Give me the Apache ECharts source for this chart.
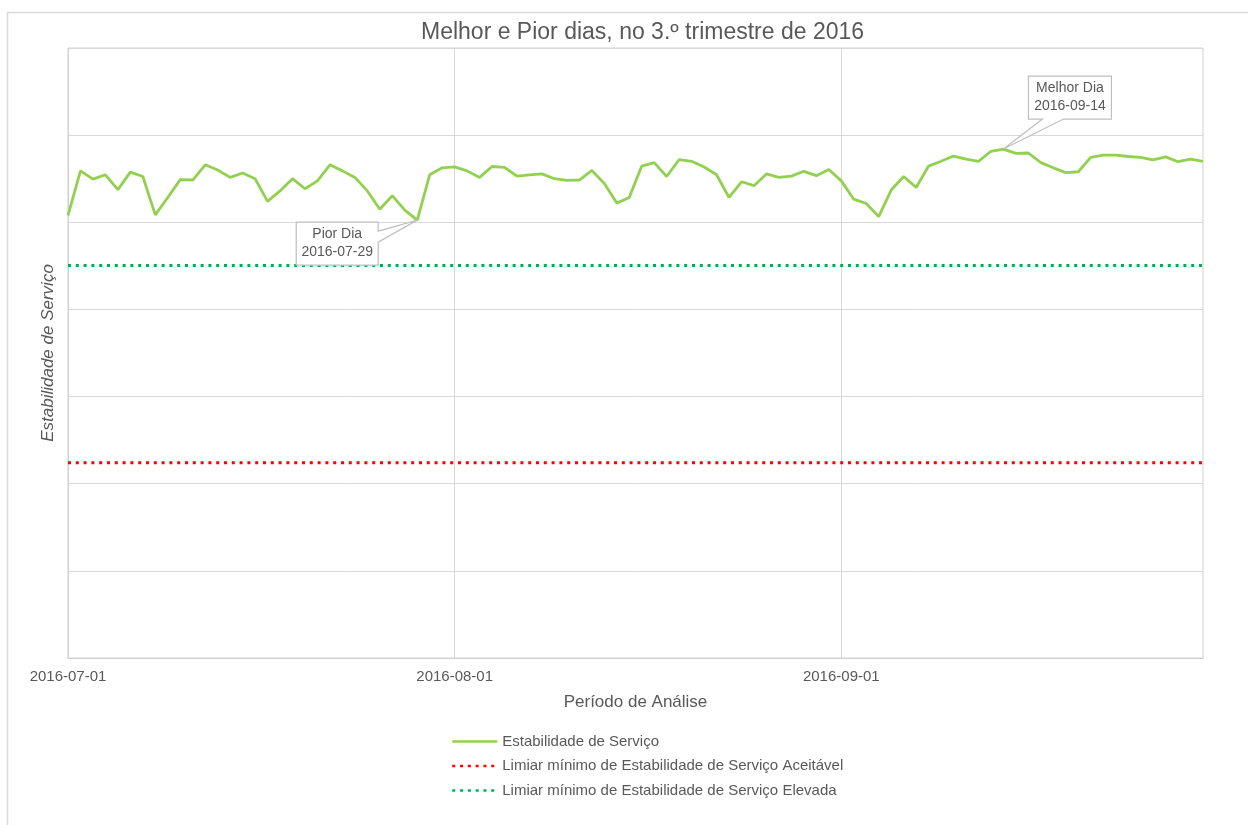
<!DOCTYPE html>
<html>
<head>
<meta charset="utf-8">
<script src="https://cdn.jsdelivr.net/npm/echarts@6/dist/echarts.min.js"></script>
<style>html,body{margin:0;padding:0;background:#fff}#c{width:1248px;height:825px}</style>
</head>
<body>
<div id="c"></div>
<script>
const months = [['2016-07', 31], ['2016-08', 31], ['2016-09', 30]];
const dates = [];
months.forEach(([m, n]) => { for (let d = 1; d <= n; d++) dates.push(m + '-' + String(d).padStart(2, '0')); });

const julValues = [96.16, 97.18, 96.99, 97.09, 96.75, 97.15, 97.05, 96.17, 96.57, 96.98, 96.97, 97.32, 97.20, 97.03, 97.13, 97.00, 96.48, 96.72, 97.00, 96.77, 96.95, 97.32, 97.18, 97.03, 96.72, 96.30, 96.61, 96.28, 96.05, 97.09, 97.25];
const augValues = [97.27, 97.18, 97.03, 97.28, 97.26, 97.06, 97.09, 97.11, 97.00, 96.96, 96.97, 97.19, 96.89, 96.44, 96.57, 97.29, 97.37, 97.05, 97.44, 97.40, 97.27, 97.09, 96.57, 96.93, 96.84, 97.11, 97.03, 97.06, 97.17, 97.07, 97.21];
const sepValues = [96.95, 96.53, 96.43, 96.13, 96.74, 97.05, 96.80, 97.29, 97.40, 97.52, 97.45, 97.40, 97.63, 97.68, 97.58, 97.59, 97.37, 97.25, 97.14, 97.16, 97.49, 97.54, 97.54, 97.51, 97.49, 97.43, 97.50, 97.39, 97.45, 97.40];
const stability = julValues.concat(augValues, sepValues);

const acceptableThreshold = 90.48;
const highThreshold = 95.01;
const worstDay = '2016-07-29';
const bestDay = '2016-09-14';

const seriesNames = ['Estabilidade de Serviço', 'Limiar mínimo de Estabilidade de Serviço Aceitável', 'Limiar mínimo de Estabilidade de Serviço Elevada'];

const txt = '#595959';
const chart = echarts.init(document.getElementById('c'));
const firstDate = dates[0], lastDate = dates[dates.length - 1];
const monthStart = (i, v) => /-01$/.test(v);

chart.setOption({
  animation: false,
  backgroundColor: '#fff',
  textStyle: { fontFamily: 'Liberation Sans, Arial, sans-serif' },
  title: {
    text: 'Melhor e Pior dias, no 3.º trimestre de 2016',
    left: 416, top: 16,
    textStyle: { fontSize: 23, fontWeight: 'normal', color: txt, fontFamily: 'Liberation Sans, Arial, sans-serif' }
  },
  grid: { left: 68, top: 48, right: 45, bottom: 167, show: true, borderColor: '#d0d0d0', borderWidth: 1 },
  legend: {
    orient: 'vertical', left: 446, top: 729, itemWidth: 45, itemHeight: 14, itemGap: 9.5,
    textStyle: { fontSize: 15, color: txt },
    itemStyle: { opacity: 0 },
    lineStyle: { width: 2.5 },
    data: seriesNames
  },
  xAxis: {
    type: 'category', data: dates, boundaryGap: false,
    name: 'Período de Análise', nameLocation: 'middle', nameGap: 36,
    nameTextStyle: { fontSize: 17, color: txt },
    axisLine: { lineStyle: { color: '#d0d0d0' } },
    axisTick: { show: false },
    axisLabel: { interval: monthStart, fontSize: 15, color: txt, margin: 11 },
    splitLine: { show: true, interval: monthStart, lineStyle: { color: '#d9d9d9' } }
  },
  yAxis: {
    type: 'value', min: 86, max: 100, interval: 2,
    name: 'Estabilidade de Serviço', nameLocation: 'middle', nameGap: 11,
    nameTextStyle: { fontSize: 17, color: txt, fontStyle: 'italic' },
    axisLine: { show: true, lineStyle: { color: '#d0d0d0' } },
    axisTick: { show: false },
    axisLabel: { show: false },
    splitLine: { lineStyle: { color: '#d9d9d9' } }
  },
  series: [
    {
      name: seriesNames[0], type: 'line', data: stability, symbol: 'none', z: 3,
      lineStyle: { color: '#92d050', width: 2.8 }, itemStyle: { color: '#92d050' }
    },
    {
      name: seriesNames[1], type: 'line', symbol: 'none',
      data: [[firstDate, acceptableThreshold], [lastDate, acceptableThreshold]],
      lineStyle: { color: '#ff0000', width: 3, type: [3, 4.8] }, itemStyle: { color: '#ff0000' }
    },
    {
      name: seriesNames[2], type: 'line', symbol: 'none',
      data: [[firstDate, highThreshold], [lastDate, highThreshold]],
      lineStyle: { color: '#00b050', width: 3, type: [3, 4.8] }, itemStyle: { color: '#00b050' }
    }
  ]
});

function callout(dateStr, label, below) {
  const v = stability[dates.indexOf(dateStr)];
  const p = chart.convertToPixel({ seriesIndex: 0 }, [dateStr, v]);
  const px = p[0], py = p[1];
  let pts, x0, y0, x1, y1;
  if (below) {
    x0 = px - 121; x1 = px - 39; y0 = py + 2; y1 = py + 45;
    pts = [[x0, y0], [x1, y0], [x1, y0 + 9], [px, py], [x1, y0 + 20], [x1, y1], [x0, y1]];
  } else {
    x0 = px + 25; x1 = px + 108; y0 = py - 73; y1 = py - 30;
    pts = [[x0, y0], [x1, y0], [x1, y1], [px + 60, y1], [px, py], [px + 39, y1], [x0, y1]];
  }
  return [
    { type: 'polygon', z: 10, shape: { points: pts }, style: { fill: '#fff', stroke: '#bfbfbf', lineWidth: 1.2 } },
    { type: 'text', z: 11, x: (x0 + x1) / 2, y: (y0 + y1) / 2,
      style: { text: label, fill: txt, font: '14px "Liberation Sans", Arial, sans-serif', align: 'center', verticalAlign: 'middle', lineHeight: 18 } }
  ];
}

chart.setOption({
  graphic: [
    { type: 'rect', z: 0, silent: true, shape: { x: 7.5, y: 12.5, width: 1300, height: 900 }, style: { fill: 'none', stroke: '#d9d9d9', lineWidth: 1.5 } }
  ].concat(callout(worstDay, 'Pior Dia\n' + worstDay, true), callout(bestDay, 'Melhor Dia\n' + bestDay, false))
});
</script>
</body>
</html>
